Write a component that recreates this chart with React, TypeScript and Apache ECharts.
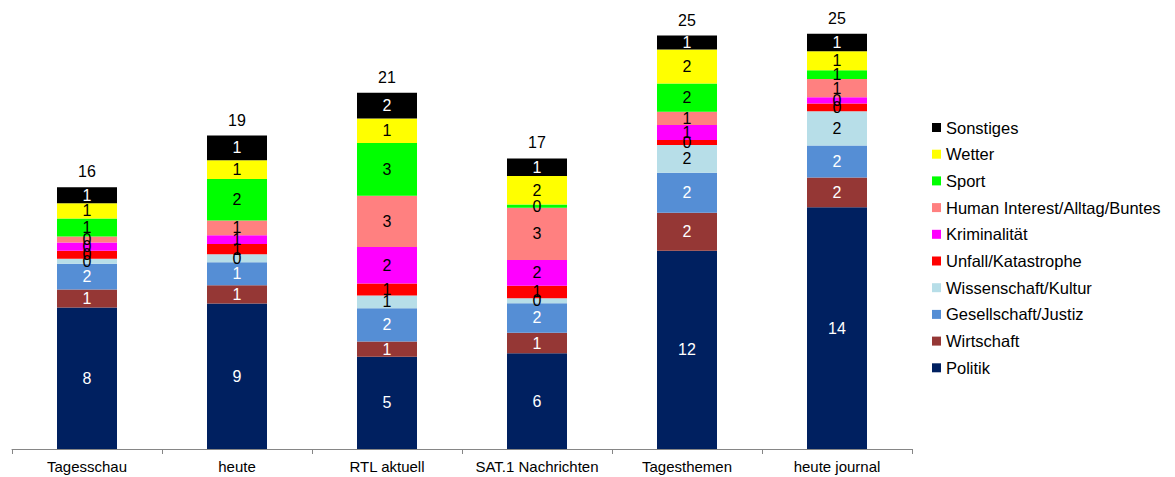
import React, { useEffect, useRef } from "react";
import * as echarts from "echarts";

const categories = ["Tagesschau", "heute", "RTL aktuell", "SAT.1 Nachrichten", "Tagesthemen", "heute journal"];

const politik = [8.42, 8.65, 5.49, 5.69, 11.79, 14.38];
const wirtschaft = [1.07, 1.09, 0.91, 1.23, 2.26, 1.77];
const gesellschaft = [1.53, 1.37, 1.98, 1.75, 2.38, 1.9];
const wissenschaft = [0.3, 0.48, 0.76, 0.3, 1.65, 2.04];
const unfall = [0.48, 0.6, 0.7, 0.75, 0.3, 0.46];
const kriminalitaet = [0.48, 0.52, 2.18, 1.52, 0.89, 0.38];
const humanInterest = [0.36, 0.88, 3.05, 3.11, 0.79, 1.09];
const sport = [1.07, 2.48, 3.14, 0.2, 1.69, 0.52];
const wetter = [0.91, 1.11, 1.46, 1.69, 2.02, 1.13];
const sonstiges = [0.95, 1.47, 1.52, 1.05, 0.83, 1.03];

const seriesDefs = [
  { name: "Politik", data: politik, color: "#002060", label: "#ffffff" },
  { name: "Wirtschaft", data: wirtschaft, color: "#953735", label: "#ffffff" },
  { name: "Gesellschaft/Justiz", data: gesellschaft, color: "#558ED5", label: "#ffffff" },
  { name: "Wissenschaft/Kultur", data: wissenschaft, color: "#B7DEE8", label: "#000000" },
  { name: "Unfall/Katastrophe", data: unfall, color: "#FF0000", label: "#000000" },
  { name: "Kriminalität", data: kriminalitaet, color: "#FF00FF", label: "#000000" },
  { name: "Human Interest/Alltag/Buntes", data: humanInterest, color: "#FF8080", label: "#000000" },
  { name: "Sport", data: sport, color: "#00FF00", label: "#000000" },
  { name: "Wetter", data: wetter, color: "#FFFF00", label: "#000000" },
  { name: "Sonstiges", data: sonstiges, color: "#000000", label: "#ffffff" },
];

const FONT = "'Liberation Sans', Arial, sans-serif";

export default function App() {
  const ref = useRef<HTMLDivElement>(null);

  useEffect(() => {
    if (!ref.current) return;
    const chart = echarts.init(ref.current, undefined, { renderer: "svg" });
    const totals = categories.map((_, i) =>
      seriesDefs.reduce((s, d) => s + d.data[i], 0)
    );
    const barSeries = seriesDefs.map((d) => ({
      name: d.name,
      type: "bar",
      stack: "total",
      barWidth: "40%",
      data: d.data,
      itemStyle: { color: d.color },
      label: {
        show: true,
        position: "inside",
        color: d.label,
        fontSize: 16,
        fontFamily: FONT,
        formatter: (p: any) => String(Math.round(p.value)),
      },
    }));
    chart.setOption({
      animation: false,
      textStyle: { fontFamily: FONT },
      grid: { left: 12, width: 900, top: 12, bottom: 28 },
      legend: {
        orient: "vertical",
        left: 932,
        top: 119,
        padding: 0,
        icon: "rect",
        itemWidth: 9,
        itemHeight: 9,
        itemGap: 9.7,
        data: seriesDefs.map((d) => d.name).reverse(),
        textStyle: { fontSize: 16.5, lineHeight: 16, color: "#000", fontFamily: FONT },
      },
      xAxis: {
        type: "category",
        data: categories,
        axisLine: { lineStyle: { color: "#868686" } },
        axisTick: { show: true, length: 5, lineStyle: { color: "#868686" } },
        axisLabel: { color: "#000", fontSize: 15, margin: 10, interval: 0, fontFamily: FONT },
      },
      yAxis: {
        type: "value",
        min: 0,
        max: 26,
        show: false,
        splitLine: { show: false },
      },
      series: [
        ...barSeries,
        {
          name: "Gesamt",
          type: "line",
          data: totals,
          symbol: "circle",
          symbolSize: 1,
          showSymbol: true,
          silent: true,
          itemStyle: { color: "rgba(0,0,0,0)" },
          lineStyle: { opacity: 0 },
          label: {
            show: true,
            position: "top",
            distance: 7,
            color: "#000",
            fontSize: 16,
            fontFamily: FONT,
            formatter: (p: any) => String(Math.round(p.value)),
          },
        },
      ],
    });
    return () => chart.dispose();
  }, []);

  return (
    <div
      ref={ref}
      style={{ position: "fixed", left: 0, top: 0, width: 1175, height: 477, background: "#fff" }}
    />
  );
}
